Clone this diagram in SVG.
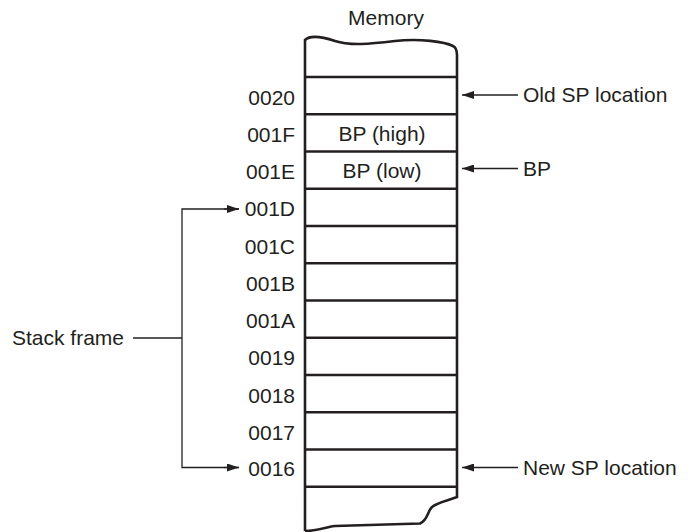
<svg xmlns="http://www.w3.org/2000/svg" width="693" height="532" viewBox="0 0 693 532">
<style>
text{font-family:"Liberation Sans",Arial,sans-serif;font-size:21px;fill:#231f20}
.addr{text-anchor:end}
.mid{text-anchor:middle}
.col{fill:none;stroke:#231f20;stroke-width:2.6}
.conn{fill:none;stroke:#231f20;stroke-width:1.3}
</style>
<defs>
<marker id="ah" viewBox="0 0 12 8" refX="12" refY="4" markerWidth="12" markerHeight="8" markerUnits="userSpaceOnUse" orient="auto">
<path d="M0,0 L12,4 L0,8 Z" fill="#231f20"/>
</marker>
</defs>
<g id="title"><text class="mid" x="386" y="25">Memory</text></g>
<g id="memory">
<path class="col" d="M305,531 L305,40 C310,35 320,36 335,41 C350,46 370,44 395,41 C420,38 445,42 453,46 C457,48 457,52 457,55 L457,497 C447,501 438,502 432,507 C427,512 428,520 420,523.5 L335,526 C325,527 318,531 305,531"/>
<g class="col">
<line x1="305" y1="77" x2="457" y2="77"/>
<line x1="305" y1="114.3" x2="457" y2="114.3"/>
<line x1="305" y1="151.5" x2="457" y2="151.5"/>
<line x1="305" y1="188.8" x2="457" y2="188.8"/>
<line x1="305" y1="226" x2="457" y2="226"/>
<line x1="305" y1="263.3" x2="457" y2="263.3"/>
<line x1="305" y1="300.5" x2="457" y2="300.5"/>
<line x1="305" y1="337.8" x2="457" y2="337.8"/>
<line x1="305" y1="375" x2="457" y2="375"/>
<line x1="305" y1="412.3" x2="457" y2="412.3"/>
<line x1="305" y1="449.5" x2="457" y2="449.5"/>
<line x1="305" y1="486.8" x2="457" y2="486.8"/>
</g>
<text class="mid" x="382" y="141">BP (high)</text>
<text class="mid" x="382" y="178">BP (low)</text>
</g>
<g id="addresses">
<text class="addr" x="295" y="105">0020</text>
<text class="addr" x="295" y="142">001F</text>
<text class="addr" x="295" y="179">001E</text>
<text class="addr" x="295" y="216">001D</text>
<text class="addr" x="295" y="254">001C</text>
<text class="addr" x="295" y="291">001B</text>
<text class="addr" x="295" y="328">001A</text>
<text class="addr" x="295" y="365">0019</text>
<text class="addr" x="295" y="403">0018</text>
<text class="addr" x="295" y="440">0017</text>
<text class="addr" x="295" y="476">0016</text>
</g>
<g id="old-sp"><text x="523" y="102">Old SP location</text></g>
<g id="bp"><text x="523" y="176">BP</text></g>
<g id="new-sp"><text x="523" y="475">New SP location</text></g>
<g id="stack-frame"><text x="12" y="345">Stack frame</text></g>
<g id="connectors">
<line class="conn" x1="518" y1="95" x2="462" y2="95" marker-end="url(#ah)"/>
<line class="conn" x1="518" y1="168.5" x2="462" y2="168.5" marker-end="url(#ah)"/>
<line class="conn" x1="518" y1="467.5" x2="462" y2="467.5" marker-end="url(#ah)"/>
<line class="conn" x1="133" y1="338" x2="182" y2="338"/>
<path class="conn" d="M239,209 L182,209 L182,467.5 L239,467.5"/>
<line class="conn" x1="224" y1="209" x2="239" y2="209" marker-end="url(#ah)"/>
<line class="conn" x1="224" y1="467.5" x2="239" y2="467.5" marker-end="url(#ah)"/>
</g>
</svg>
